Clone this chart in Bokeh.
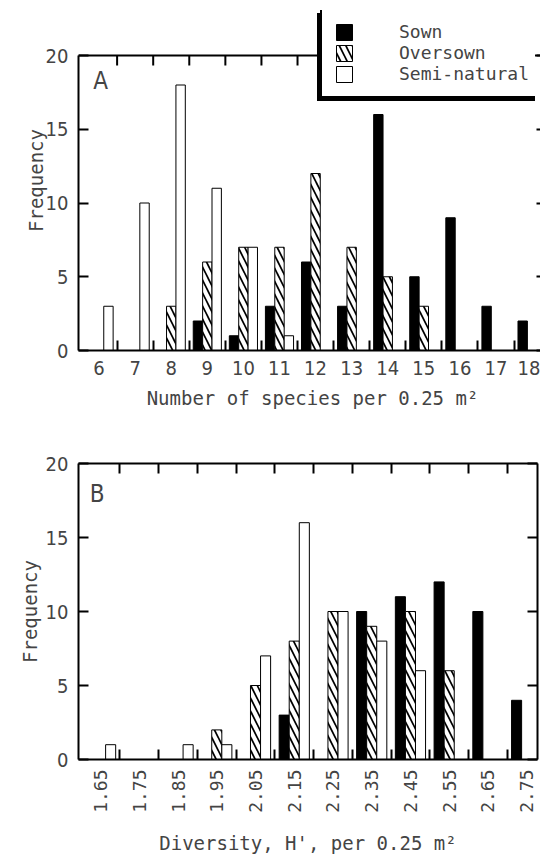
import math
from bokeh.plotting import figure
from bokeh.models import (FixedTicker, LinearAxis, Range1d, Legend, LegendItem,
                          Label, PrintfTickFormatter, Span)
from bokeh.transform import dodge
from bokeh.layouts import column
from bokeh.embed import file_html
from bokeh.resources import INLINE

# ---------------- data ----------------
# Panel A: number of species per 0.25 m2
a_species = [6, 7, 8, 9, 10, 11, 12, 13, 14, 15, 16, 17, 18]
a_sown = [0, 0, 0, 2, 1, 3, 6, 3, 16, 5, 9, 3, 2]
a_oversown = [0, 0, 3, 6, 7, 7, 12, 7, 5, 3, 0, 0, 0]
a_semi = [3, 10, 18, 11, 7, 1, 0, 0, 0, 0, 0, 0, 0]

# Panel B: diversity H' per 0.25 m2
b_diversity = [1.65, 1.75, 1.85, 1.95, 2.05, 2.15, 2.25, 2.35, 2.45, 2.55, 2.65, 2.75]
b_sown = [0, 0, 0, 0, 0, 3, 0, 10, 11, 12, 10, 4]
b_oversown = [0, 0, 0, 2, 5, 8, 10, 9, 10, 6, 0, 0]
b_semi = [1, 0, 1, 1, 7, 16, 10, 8, 6, 0, 0, 0]

y_ticks = [0, 5, 10, 15, 20]
y_max = 20
series_names = ["Sown", "Oversown", "Semi-natural"]

NUM_FONT = "'Liberation Sans Narrow', 'DejaVu Sans Condensed', 'Liberation Sans', sans-serif"
MONO_FONT = "'DejaVu Sans Mono', monospace"
TICK_PX = 10


def midpoints(v):
    return [(a + b) / 2 for a, b in zip(v[:-1], v[1:])]


def make_panel(xs, sown, over, semi, x_range, y_top, bw, fw, fh, bl, br, bt, bb,
               xlabel, rotate_labels, ylabel_standoff, fmt=None, real_top_axis=True):
    p = figure(x_range=x_range, y_range=Range1d(0, y_top),
               frame_width=fw, frame_height=fh,
               min_border_left=bl, min_border_right=br,
               min_border_top=bt, min_border_bottom=bb,
               output_backend="svg", toolbar_location=None)
    p.grid.visible = False
    p.outline_line_color = None
    p.background_fill_color = "white"
    p.border_fill_color = "white"

    src = dict(x=xs, sown=sown, over=over, semi=semi)
    r_sown = p.vbar(x=dodge("x", -bw), top="sown", width=bw, source=src,
                    fill_color="black", line_color="black", line_width=1)
    r_over = p.vbar(x="x", top="over", width=bw, source=src,
                    fill_color="white", line_color="black", line_width=1,
                    hatch_pattern="\\", hatch_color="black", hatch_scale=13,
                    hatch_weight=1.7)
    r_semi = p.vbar(x=dodge("x", bw), top="semi", width=bw, source=src,
                    fill_color="white", line_color="black", line_width=1)

    mids = midpoints(xs)
    xt = FixedTicker(ticks=xs, minor_ticks=mids)
    yt = FixedTicker(ticks=y_ticks, minor_ticks=[])

    # bottom axis
    xa = p.xaxis[0]
    xa.ticker = xt
    if fmt is not None:
        xa.formatter = fmt
    xa.axis_line_width = 2
    xa.major_tick_line_color = None
    xa.major_tick_out = 0
    xa.major_tick_in = 0
    xa.minor_tick_in = TICK_PX
    xa.minor_tick_out = 0
    xa.minor_tick_line_width = 2
    xa.major_label_standoff = 10
    xa.axis_label = xlabel
    xa.axis_label_text_font = MONO_FONT
    xa.axis_label_text_font_size = "19px"
    xa.axis_label_text_font_style = "normal"
    if rotate_labels:
        xa.major_label_orientation = math.pi / 2
        xa.major_label_text_font = MONO_FONT
        xa.major_label_text_font_size = "18px"
        xa.axis_label_standoff = 16
    else:
        xa.major_label_text_font = NUM_FONT
        xa.major_label_text_font_size = "20px"
        xa.axis_label_standoff = 9

    # left axis
    ya = p.yaxis[0]
    ya.ticker = yt
    ya.bounds = (0, y_max)
    ya.axis_line_width = 2
    ya.major_tick_in = TICK_PX
    ya.major_tick_out = 0
    ya.major_tick_line_width = 2
    ya.minor_tick_line_color = None
    ya.major_label_standoff = 10
    ya.major_label_text_font = NUM_FONT
    ya.major_label_text_font_size = "20px"
    ya.axis_label = "Frequency"
    ya.axis_label_text_font = MONO_FONT
    ya.axis_label_text_font_size = "19px"
    ya.axis_label_text_font_style = "normal"
    ya.axis_label_standoff = ylabel_standoff

    # right axis (inward ticks only)
    right = LinearAxis(ticker=yt, bounds=(0, y_max), axis_line_width=2,
                       major_tick_in=TICK_PX, major_tick_out=0, major_tick_line_width=2,
                       minor_tick_line_color=None,
                       major_label_text_font_size="0px", major_label_standoff=0)
    p.add_layout(right, "right")

    if real_top_axis:
        top = LinearAxis(ticker=xt, axis_line_width=2,
                         major_tick_line_color=None, major_tick_in=0, major_tick_out=0,
                         minor_tick_in=TICK_PX, minor_tick_out=0, minor_tick_line_width=2,
                         major_label_text_font_size="0px", major_label_standoff=0)
        p.add_layout(top, "above")
    else:
        # frame top line at y = 20 with inward ticks (legend overlaps above it)
        p.add_layout(Span(location=y_max, dimension="width",
                          line_color="black", line_width=2))
        tick_len = TICK_PX * y_top / fh
        p.segment(x0=mids, y0=[y_max] * len(mids), x1=mids,
                  y1=[y_max - tick_len] * len(mids),
                  line_color="black", line_width=2)
    return p, (r_sown, r_over, r_semi)


# ---------------- panel A ----------------
A_FH = 340
A_YTOP = y_max + 45 * y_max / 295  # extra room above the box for the legend
pA, rA = make_panel(a_species, a_sown, a_oversown, a_semi,
                    Range1d(5.43, 18.40), A_YTOP, 0.26,
                    fw=468, fh=A_FH, bl=69, br=3, bt=10, bb=63,
                    xlabel="Number of species per 0.25 m²", rotate_labels=False,
                    ylabel_standoff=-4, real_top_axis=False)
pA.add_layout(Label(x=5.84, y=19.2, text="A", text_baseline="top",
                    text_font=NUM_FONT, text_font_size="24px"))

legend_common = dict(padding=12, spacing=0, glyph_width=20, glyph_height=20,
                     label_height=20, label_width=145, label_standoff=45, margin=0,
                     label_text_font=MONO_FONT, border_line_color="black",
                     border_line_alpha=1.0, background_fill_alpha=1.0)
# drop shadow of the legend box (offset down-left)
shadow = Legend(items=[LegendItem(label=n, renderers=[r]) for n, r in zip(series_names, rA)],
                location=(255, 249), label_text_font_size="0px",
                border_line_width=2, background_fill_color="black", **legend_common)
legend = Legend(items=[LegendItem(label=n, renderers=[r]) for n, r in zip(series_names, rA)],
                location=(258, 252), label_text_font_size="18px",
                border_line_width=2, background_fill_color="white", **legend_common)
pA.add_layout(shadow, "center")
pA.add_layout(legend, "center")

# ---------------- panel B ----------------
pB, rB = make_panel(b_diversity, b_sown, b_oversown, b_semi,
                    Range1d(1.593, 2.778), y_max, 0.026,
                    fw=459, fh=296, bl=78, br=3, bt=50, bb=92,
                    xlabel="Diversity, H', per 0.25 m²", rotate_labels=True,
                    ylabel_standoff=2, fmt=PrintfTickFormatter(format="%.2f"))
pB.add_layout(Label(x=1.622, y=18.9, text="B", text_baseline="top",
                    text_font=NUM_FONT, text_font_size="24px"))

layout = column(pA, pB, spacing=0)
open("out.html", "w").write(file_html(layout, INLINE))
